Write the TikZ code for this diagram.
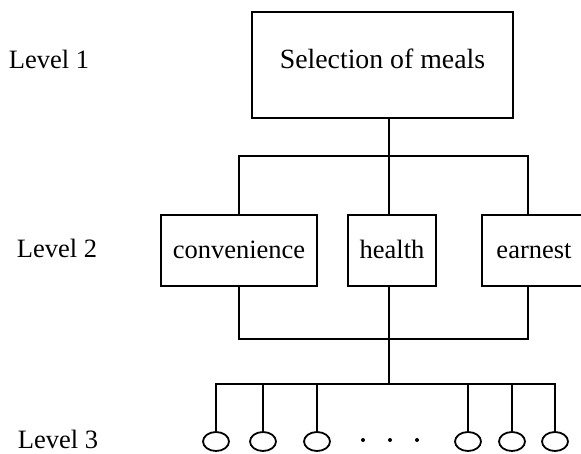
\documentclass[tikz,border=0pt]{standalone}
\usepackage{fontspec}
\setmainfont{Liberation Serif}
\usetikzlibrary{shapes.geometric}

\tikzset{
  box/.style={draw, rectangle, inner sep=0pt, text height=19pt, text depth=2pt},
  leaf/.style={draw, ellipse, inner sep=0pt, minimum width=26pt, minimum height=19pt},
  levellabel/.style={anchor=base west, inner sep=0pt}
}

\begin{document}
\begin{tikzpicture}[x=1pt,y=-1pt,line width=1.8pt,font=\fontsize{26.5}{30}\selectfont]

    \useasboundingbox (0,0) rectangle (581,454);

    % level labels
    \node[levellabel] (lev1) at (8,69) {Level 1};
    \node[levellabel] (lev2) at (16,258) {Level 2};
    \node[levellabel] (lev3) at (17,448) {Level 3};

    % goal and criteria
    \node[box, minimum width=261pt, minimum height=106pt, text depth=12pt,
          font=\fontsize{27.8}{32}\selectfont] (meals) at (382.5,65) {Selection of meals};
    \node[box, minimum width=156pt, minimum height=71pt] (conv) at (239,250.5) {convenience};
    \node[box, minimum width=88pt, minimum height=71pt] (health) at (392,250.5) {health};
    \node[box, minimum width=104pt, minimum height=71pt] (earnest) at (534,250.5) {earnest};

    % alternatives
    \node[leaf] (leaf1) at (216,441.5) {};
    \node[leaf] (leaf2) at (263,441.5) {};
    \node[leaf] (leaf3) at (317,441.5) {};
    \node[leaf] (leaf4) at (468,441.5) {};
    \node[leaf] (leaf5) at (512,441.5) {};
    \node[leaf] (leaf6) at (555,441.5) {};

    \fill (363,440) circle (2pt);
    \fill (390,440) circle (2pt);
    \fill (417,440) circle (2pt);

    \coordinate (j1) at (389,156);
    \coordinate (j2) at (389,339);
    \coordinate (j3) at (389,384);

    \draw (meals.south -| j1) -- (j1);
    \draw (conv.north) |- (j1) -| ([xshift=-6pt]earnest.north);
    \draw (j1) -- (j1 |- health.north);

    \draw (conv.south) |- (j2) -| ([xshift=-6pt]earnest.south);
    \draw (health.south -| j2) -- (j3);

    \draw (leaf1.north) |- (j3) -| (leaf6.north);
    \draw (leaf2.north) -- (leaf2.north |- j3);
    \draw (leaf3.north) -- (leaf3.north |- j3);
    \draw (leaf4.north) -- (leaf4.north |- j3);
    \draw (leaf5.north) -- (leaf5.north |- j3);

\end{tikzpicture}
\end{document}
